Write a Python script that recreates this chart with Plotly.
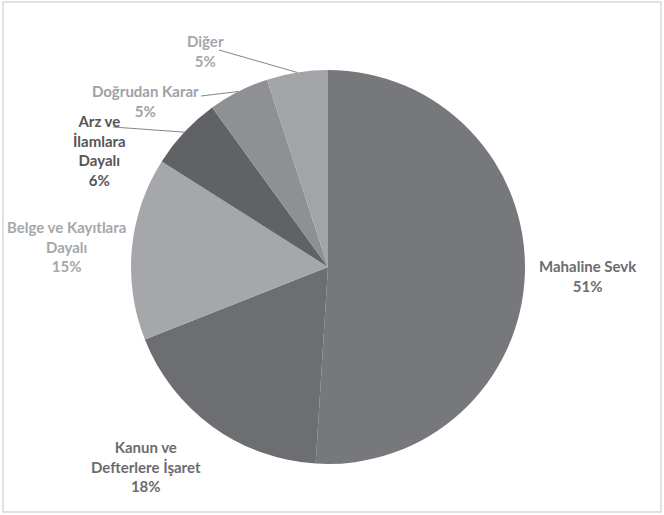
import numpy as np
import plotly.graph_objects as go

labels = ["Mahaline Sevk", "Kanun ve Defterlere İşaret", "Belge ve Kayıtlara Dayalı",
          "Arz ve İlamlara Dayalı", "Doğrudan Karar", "Diğer"]
values = [51, 18, 15, 6, 5, 5]
label_texts = ["Mahaline Sevk<br>51%", "Kanun ve<br>Defterlere İşaret<br>18%",
               "Belge ve Kayıtlara<br>Dayalı<br>15%", "Arz ve<br>İlamlara<br>Dayalı<br>6%",
               "Doğrudan Karar<br>5%", "Diğer<br>5%"]
slice_colors = ["#77787c", "#6d6e72", "#a6a7aa", "#616266", "#8f9093", "#a3a4a7"]
text_colors = ["#6b6c70", "#6b6c70", "#a6a7aa", "#55565a", "#a0a1a4", "#a6a7aa"]

W, H = 664, 515
CX, CY, R = 328, 267, 197

def px(x):
    return x / W

def py(y):
    return 1 - y / H

fig = go.Figure()
fig.add_trace(go.Pie(
    labels=labels, values=values, sort=False, direction="clockwise", rotation=0,
    marker=dict(colors=slice_colors, line=dict(width=0)),
    textinfo="none", hoverinfo="label+percent", showlegend=False,
    domain=dict(x=[px(CX - R), px(CX + R)], y=[py(CY + R), py(CY - R)]),
))

# label positions (pixel centres)
label_pos = [(588, 276), (146, 466), (66, 247), (99, 151), (145, 101), (205, 51)]
annotations = []
for t, (lx, ly), c in zip(label_texts, label_pos, text_colors):
    annotations.append(dict(
        x=px(lx), y=py(ly), xref="paper", yref="paper", text=t, showarrow=False,
        xanchor="center", yanchor="middle", align="center",
        font=dict(family="Lato", size=15, color=c, weight="bold")))

# leader lines from label to slice edge (slice mid angles computed from data)
vals = np.array(values, dtype=float)
cum = np.cumsum(vals) - vals / 2
mid_angle = cum / vals.sum() * 2 * np.pi
leader_start = {3: (113, 127), 4: (201, 96), 5: (219, 50)}
shapes = []
for i, (sx, sy) in leader_start.items():
    ex = CX + R * np.sin(mid_angle[i])
    ey = CY - R * np.cos(mid_angle[i])
    shapes.append(dict(type="line", xref="paper", yref="paper",
                       x0=px(sx), y0=py(sy), x1=px(ex), y1=py(ey),
                       line=dict(color="#85868a", width=1)))

# outer frame
shapes.append(dict(type="rect", xref="paper", yref="paper",
                   x0=px(3), y0=py(512), x1=px(661), y1=py(2),
                   line=dict(color="#d9d9d9", width=1.5)))

fig.update_layout(
    width=W, height=H, margin=dict(l=0, r=0, t=0, b=0),
    paper_bgcolor="white", plot_bgcolor="white",
    annotations=annotations, shapes=shapes,
)
fig.write_html("out.html")
